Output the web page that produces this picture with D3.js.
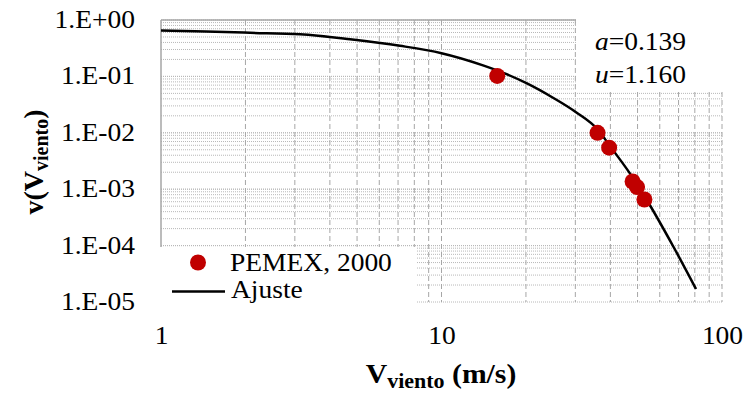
<!DOCTYPE html>
<html>
<head>
<meta charset="utf-8">
<script src="https://cdn.jsdelivr.net/npm/d3@7"></script>
<style>
  html, body { margin: 0; padding: 0; background: #fff; }
  svg { display: block; }
  text { font-family: "Liberation Serif", "Times New Roman", serif; fill: #000; }
</style>
</head>
<body>
<svg id="chart" width="747" height="399"></svg>
<script>
// ---- data ----
const pemexV = [15.8, 36.0, 39.6, 48.0, 49.8, 52.9];
const pemexP = [0.102, 0.0100, 0.00544, 0.00137, 0.00109, 0.000657];

const fitV = [1, 1.447, 2.077, 3.13, 4.72, 7.11, 10, 14.06, 16.98, 20.17, 24.97, 30.17, 36.14, 39.55, 48.97, 53.15, 66.89, 80.8];
const fitP = [0.651, 0.625, 0.593, 0.558, 0.455, 0.349, 0.258, 0.157, 0.1107, 0.0751, 0.0419, 0.0232, 0.0113, 0.00615, 0.00140, 0.000727, 0.0000984, 0.0000170];

const xTicks = [1, 10, 100];
const yTicks = [1, 0.1, 0.01, 0.001, 0.0001, 0.00001];
const legendLabels = ["PEMEX, 2000", "Ajuste"];
const paramLabels = [["a", "=0.139"], ["u", "=1.160"]];

// ---- layout ----
const svg = d3.select("#chart");
const L = 161, R = 722, T = 20, B = 302;
const SX = 1.1; // horizontal glyph stretch of the original
const FONT = "'Liberation Serif', 'Times New Roman', serif";
const x = d3.scaleLog().domain([1, 100]).range([L, R]);
const y = d3.scaleLog().domain([0.00001, 1]).range([B, T]);

// Times advance widths (em) for tick-label glyphs
const adv = { "0": .5, "1": .5, "2": .5, "3": .5, "4": .5, "5": .5, ".": .25, "E": .611, "+": .564, "-": .333 };
const emWidth = s => s.split("").reduce((a, c) => a + (adv[c] || .5), 0);

// minor/major values for grids
const xGrid = [];
[1, 10].forEach(d => { for (let k = 2; k <= 10; k++) xGrid.push(d * k); });
const yGrid = [];
[0.00001, 0.0001, 0.001, 0.01, 0.1].forEach(d => { for (let k = 1; k <= 10; k++) yGrid.push(+(d * k).toPrecision(3)); });

const grid = svg.append("g");
grid.selectAll("line.h").data(yGrid).join("line")
  .attr("x1", L).attr("x2", R)
  .attr("y1", d => y(d)).attr("y2", d => y(d))
  .attr("stroke", "#b8b8b8").attr("stroke-width", 1)
  .attr("stroke-dasharray", "1,1");
grid.selectAll("line.v").data(xGrid).join("line")
  .attr("x1", d => x(d)).attr("x2", d => x(d))
  .attr("y1", T).attr("y2", B)
  .attr("stroke", "#a6a6a6").attr("stroke-width", 1)
  .attr("stroke-dasharray", "5,3");

// axis lines (x axis crosses at 1 -> top)
svg.append("line").attr("x1", L).attr("x2", R).attr("y1", T).attr("y2", T)
  .attr("stroke", "#a6a6a6").attr("stroke-width", 1.5);
svg.append("line").attr("x1", L).attr("x2", L).attr("y1", T).attr("y2", B)
  .attr("stroke", "#a6a6a6").attr("stroke-width", 1.5);

// white boxes (legend / parameter box) covering the grid
svg.append("rect").attr("x", 576).attr("y", 0).attr("width", 171).attr("height", 91).attr("fill", "#fff");
svg.append("rect").attr("x", 0).attr("y", 247).attr("width", 416).attr("height", 90).attr("fill", "#fff");

// helper for stretched text
function stext(parent, px, py, anchor, size) {
  return parent.append("g").attr("transform", `translate(${px},${py}) scale(${SX},1)`)
    .append("text").attr("text-anchor", anchor)
    .style("font-size", size + "px").style("font-family", FONT);
}

// y tick labels
const fmt = v => {
  const e = Math.round(Math.log10(v));
  return "1.E" + (e >= 0 ? "+" : "-") + String(Math.abs(e)).padStart(2, "0");
};
const yAxis = d3.axisLeft(y).tickValues(yTicks).tickFormat(fmt).tickSize(0).tickPadding(0);
const gy = svg.append("g").attr("transform", `translate(${L},0)`).call(yAxis);
gy.select(".domain").remove();
gy.selectAll(".tick text")
  .attr("x", -26 / SX).attr("dy", 0).attr("y", 7.5)
  .attr("text-anchor", "end")
  .attr("transform", `scale(${SX},1)`)
  .attr("textLength", d => emWidth(fmt(d)) * 25)
  .attr("lengthAdjust", "spacingAndGlyphs")
  .style("font-size", "25px").style("font-family", FONT).style("fill", "#000");

const xAxis = d3.axisBottom(x).tickValues(xTicks).tickFormat(d3.format("d")).tickSize(0).tickPadding(0);
const gx = svg.append("g").attr("transform", `translate(0,${B})`).call(xAxis);
gx.select(".domain").remove();
gx.selectAll(".tick text")
  .attr("y", 42).attr("dy", 0)
  .attr("transform", `scale(${SX},1)`)
  .style("font-size", "25px").style("font-family", FONT).style("fill", "#000");

// fit curve
const fitData = fitV.map((v, i) => [v, fitP[i]]);
svg.append("path").datum(fitData)
  .attr("d", d3.line().x(d => x(d[0])).y(d => y(d[1])).curve(d3.curveMonotoneX))
  .attr("fill", "none").attr("stroke", "#000").attr("stroke-width", 2.5);

// points
svg.selectAll("circle.pt").data(pemexV.map((v, i) => [v, pemexP[i]])).join("circle")
  .attr("cx", d => x(d[0])).attr("cy", d => y(d[1])).attr("r", 8)
  .attr("fill", "#c00000");

// legend
svg.append("circle").attr("cx", 198).attr("cy", 262.5).attr("r", 8).attr("fill", "#c00000");
stext(svg, 230, 271, "start", 25).text(legendLabels[0]);
svg.append("line").attr("x1", 172).attr("x2", 225).attr("y1", 291.5).attr("y2", 291.5)
  .attr("stroke", "#000").attr("stroke-width", 2.5);
stext(svg, 231, 298, "start", 25).text(legendLabels[1]);

// parameters
paramLabels.forEach((p, i) => {
  const t = stext(svg, 595, 50 + i * 32.5, "start", 25);
  t.append("tspan").attr("font-style", "italic").text(p[0]);
  t.append("tspan").text(p[1]);
});

// x title
const xt = stext(svg, 441, 383, "middle", 27).style("font-weight", "bold");
xt.append("tspan").text("V");
xt.append("tspan").style("font-size", "20px").attr("dy", 5).text("viento");
xt.append("tspan").attr("dy", -5).text(" (m/s)");

// y title
const yt = svg.append("text").attr("transform", "translate(43,162) rotate(-90)")
  .attr("text-anchor", "middle")
  .style("font-size", "28px").style("font-weight", "bold").style("font-family", FONT);
yt.append("tspan").text("v(V");
yt.append("tspan").style("font-size", "20px").attr("dy", 5).text("viento");
yt.append("tspan").attr("dy", -5).text(")");
</script>
</body>
</html>
